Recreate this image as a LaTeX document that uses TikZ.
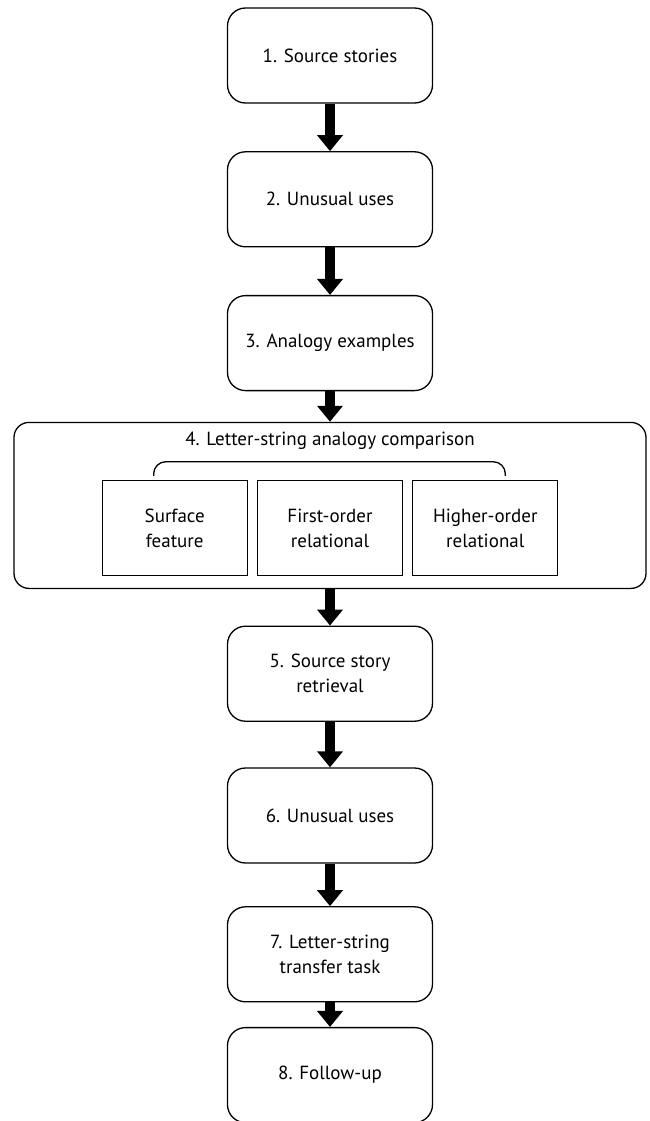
\documentclass[tikz,border=0pt]{standalone}
\usepackage{fontspec}
\setmainfont{PT Sans}
\usetikzlibrary{positioning}
\usetikzlibrary{arrows.meta}
\def\lw{1.3pt}
\tikzset{
    stage/.style = {
        draw, rounded corners=18pt, line width=\lw, minimum width=205pt,
        minimum height=95pt, align=center, font=\fontsize{19}{25}\selectfont
    },
    level/.style = {
        draw, line width=\lw, minimum width=145pt, minimum height=95pt,
        align=center, font=\fontsize{19}{25}\selectfont
    },
    flow/.style = {
        line width=10pt, -{Triangle[width=25pt,length=16pt]}
    }
}

\begin{document}
\begin{tikzpicture}[x=1pt, y=1pt]
        \useasboundingbox (0,0) rectangle (649,-1121);
        \node[stage] (s1) at (330,-55.5) {1. Source stories};
        \node[stage, below=47.5pt of s1] (s2) {2. Unusual uses};
        \node[stage, below=47.5pt of s2] (s3) {3. Analogy examples};
        \node[draw, rounded corners=15pt, line width=\lw, minimum width=632pt,
              minimum height=166pt, below=30.5pt of s3] (cmp) {};
        \node[font=\fontsize{19}{25}\selectfont, below=7pt of cmp.north] (cmptitle) {4. Letter-string analogy comparison};
        \node[level] (first) at ([yshift=-22.5pt] cmp.center) {First-order\\relational};
        \node[level, left=9pt of first] (surface) {Surface\\feature};
        \node[level, right=9pt of first] (higher) {Higher-order\\relational};
        \draw[line width=\lw, rounded corners=12pt] ([shift={(-21pt,4pt)}] surface.north)
            -- ++(0,14pt) -| ([shift={(20pt,4pt)}] higher.north);
        \node[stage, below=36.5pt of cmp] (s5) {5. Source story\\retrieval};
        \node[stage, below=45.5pt of s5] (s6) {6. Unusual uses};
        \node[stage, below=42.5pt of s6] (s7) {7. Letter-string\\transfer task};
        \node[stage, below=24.5pt of s7] (s8) {8. Follow-up};
        \begin{scope}[flow]
            \draw (s1) -- (s2);
            \draw (s2) -- (s3);
            \draw (s3) -- (cmp);
            \draw (cmp) -- (s5);
            \draw (s5) -- (s6);
            \draw (s6) -- (s7);
            \draw (s7) -- (s8);
        \end{scope}
    \end{tikzpicture}
\end{document}
